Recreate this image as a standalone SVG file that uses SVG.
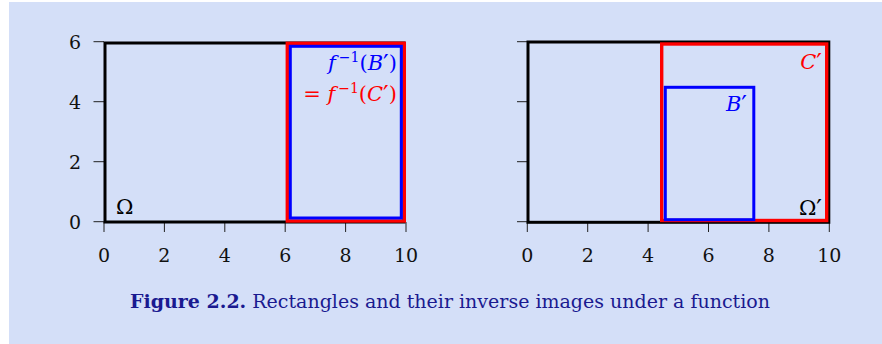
<svg xmlns="http://www.w3.org/2000/svg" width="882" height="344" viewBox="0 0 882 344">
<style>
.bg{fill:#d4dff8}
.tick{stroke:#222;stroke-width:1;fill:none}
.frame{stroke:#000;stroke-width:3;fill:none}
.red{stroke:#ff0000;stroke-width:3.4;fill:none}
.blue{stroke:#0000ff;stroke-width:3;fill:none}
.num{font-family:"DejaVu Serif","Liberation Serif",serif;font-size:19px;fill:#111}
.math{font-family:"DejaVu Serif","Liberation Serif",serif;font-size:21px}
.it{font-style:italic}
.sup{font-size:14px}
.pr{font-family:"DejaVu Serif",serif;font-style:normal;font-size:25px}
.cap{font-family:"DejaVu Serif","Liberation Serif",serif;font-size:19px;fill:#1a1a90}
</style>
<rect class="bg" x="9" y="2" width="873" height="342"/>
<g id="left-plot">
  <g id="left-axes">
    <path class="tick" d="M93.5 41.7H104 M93.5 101.7H104 M93.5 161.7H104 M93.5 221.7H104"/>
    <path class="tick" d="M104 222V232 M164.4 222V232 M224.8 222V232 M285.2 222V232 M345.6 222V232 M406 222V232"/>
    <g class="num" text-anchor="end">
      <text x="81" y="49">6</text>
      <text x="81" y="109">4</text>
      <text x="81" y="169">2</text>
      <text x="81" y="229">0</text>
    </g>
    <g class="num" text-anchor="middle">
      <text x="104" y="262">0</text>
      <text x="164.4" y="262">2</text>
      <text x="224.8" y="262">4</text>
      <text x="285.2" y="262">6</text>
      <text x="345.6" y="262">8</text>
      <text x="406" y="262">10</text>
    </g>
  </g>
  <g id="omega"><rect class="frame" x="105" y="43" width="299" height="179"/>
    <text class="math" x="116" y="214" fill="#000">Ω</text></g>
  <g id="preimage-C"><rect class="red" x="287.3" y="43.3" width="117" height="177.7"/>
    <text class="math" x="397" y="101" text-anchor="end" fill="#ff0000">= <tspan class="it">f</tspan><tspan class="sup" dx="3" dy="-8">−1</tspan><tspan dy="8">(</tspan><tspan class="it">C</tspan><tspan class="pr" dy="2">′</tspan><tspan dy="-2">)</tspan></text></g>
  <g id="preimage-B"><rect class="blue" x="290.3" y="46.3" width="111" height="171.7"/>
    <text class="math" x="397" y="70" text-anchor="end" fill="#0000ff"><tspan class="it">f</tspan><tspan class="sup" dx="3" dy="-8">−1</tspan><tspan dy="8">(</tspan><tspan class="it">B</tspan><tspan class="pr" dy="2">′</tspan><tspan dy="-2">)</tspan></text></g>
</g>
<g id="right-plot">
  <g id="right-axes">
    <path class="tick" d="M517 41.7H527.3 M517 101.7H527.3 M517 161.7H527.3 M517 221.7H527.3"/>
    <path class="tick" d="M527.3 222V232 M587.7 222V232 M648.1 222V232 M708.5 222V232 M768.9 222V232 M829.3 222V232"/>
    <g class="num" text-anchor="middle">
      <text x="527.3" y="262">0</text>
      <text x="587.7" y="262">2</text>
      <text x="648.1" y="262">4</text>
      <text x="708.5" y="262">6</text>
      <text x="768.9" y="262">8</text>
      <text x="829.3" y="262">10</text>
    </g>
  </g>
  <g id="omega-prime"><rect class="frame" x="528" y="42" width="300.8" height="180.3"/>
    <text class="math" x="822" y="215" text-anchor="end" fill="#000">Ω<tspan class="pr" dy="2">′</tspan></text></g>
  <g id="C-prime"><rect class="red" x="661.7" y="44" width="165" height="176.5"/>
    <text class="math it" x="822" y="69" text-anchor="end" fill="#ff0000">C<tspan class="pr" dy="2">′</tspan></text></g>
  <g id="B-prime"><rect class="blue" x="665.3" y="87.3" width="88.5" height="132.4"/>
    <text class="math it" x="747" y="111" text-anchor="end" fill="#0000ff">B<tspan class="pr" dy="2">′</tspan></text></g>
</g>
<text class="cap" x="450" y="308" text-anchor="middle"><tspan font-weight="bold">Figure 2.2.</tspan> Rectangles and their inverse images under a function</text>
</svg>
